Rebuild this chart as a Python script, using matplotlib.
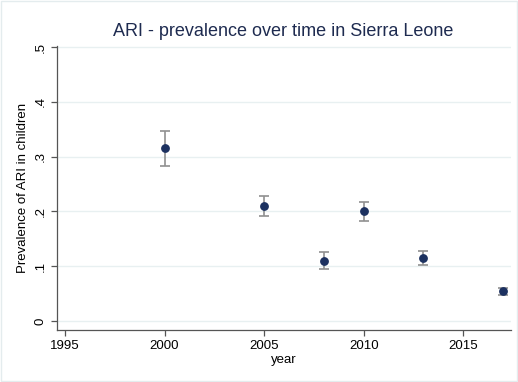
import matplotlib
matplotlib.use("Agg")
import matplotlib.pyplot as plt
from matplotlib.patches import Rectangle

years = [2000, 2005, 2008, 2010, 2013, 2017]
prevalence = [0.315, 0.210, 0.110, 0.200, 0.115, 0.054]
ci_low = [0.283, 0.191, 0.095, 0.182, 0.103, 0.048]
ci_high = [0.347, 0.229, 0.125, 0.218, 0.128, 0.060]

x_ticks = [1995, 2000, 2005, 2010, 2015]
y_ticks = [0, 0.1, 0.2, 0.3, 0.4, 0.5]
y_tick_labels = ["0", ".1", ".2", ".3", ".4", ".5"]

plt.rcParams["font.family"] = ["Liberation Sans", "DejaVu Sans"]

fig = plt.figure(figsize=(5.18, 3.82), dpi=100)
ax = fig.add_axes([57 / 518, 1 - 330 / 382, (511 - 57) / 518, (330 - 46) / 382])

# light frame around the graph region
fig.patches.append(Rectangle((0.002, 0.003), 0.996, 0.994, transform=fig.transFigure,
                             fill=False, edgecolor="#e4ecee", linewidth=1.0))

for y in y_ticks:
    ax.axhline(y, color="#e8f0f1", linewidth=1.0, zorder=0)

yerr = [[p - lo for p, lo in zip(prevalence, ci_low)],
        [hi - p for p, hi in zip(prevalence, ci_high)]]
ax.errorbar(years, prevalence, yerr=yerr, fmt="o", color="#1c3160",
            markersize=5.3, ecolor="#909090", elinewidth=1.2, capsize=3.5,
            capthick=1.2, zorder=3)

ax.set_xlim(1994.6, 2017.4)
ax.set_ylim(-0.0165, 0.502)
ax.set_xticks(x_ticks)
ax.set_yticks(y_ticks)
ax.set_yticklabels(y_tick_labels, rotation=90, va="center")

for s in ["top", "right"]:
    ax.spines[s].set_visible(False)
for s in ["left", "bottom"]:
    ax.spines[s].set_color("#555555")
    ax.spines[s].set_linewidth(0.9)
ax.tick_params(axis="both", colors="#555555", labelcolor="black", labelsize=9.5,
               length=4, width=0.9)

ax.set_xlabel("year", fontsize=9.5, labelpad=1)
ax.set_ylabel("Prevalence of ARI in children", fontsize=9.5, labelpad=4)
fig.text(0.5 * (113 + 453) / 518, 1 - 31 / 382,
         "ARI - prevalence over time in Sierra Leone",
         ha="center", va="center", fontsize=13, color="#1e2b50")

fig.savefig("out.png", dpi=100, facecolor="white")
